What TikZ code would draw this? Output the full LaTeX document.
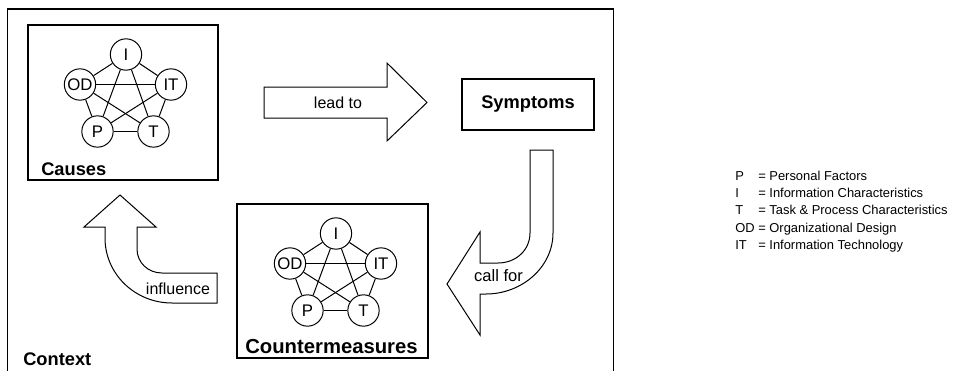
\documentclass[tikz,border=0pt]{standalone}
\usepackage{fontspec}
\setmainfont{Liberation Sans}
\begin{document}
\begin{tikzpicture}[x=0.75pt,y=-0.75pt,
  frame/.style={draw,line width=0.95pt},
  panel/.style={draw,line width=0.95pt,inner sep=0pt},
  boxlabel/.style={font=\bfseries\fontsize{13.7}{16}\selectfont,inner sep=0pt,anchor=base west},
  factor/.style={circle,draw,line width=0.75pt,minimum size=23.5pt,inner sep=0pt,font=\fontsize{12.6}{14}\selectfont},
  link/.style={line width=0.75pt},
  blockarrow/.style={draw,fill=white,line width=0.75pt,line join=miter},
  arrowtext/.style={inner sep=0pt,font=\fontsize{12}{14}\selectfont},
]
\useasboundingbox (0,0) rectangle (957,371);

% outer context frame (open at the lower edge)
\draw[frame] (7.5,371) -- (7.5,9) -- (613.5,9) -- (613.5,371);
\node[boxlabel] (contextlbl) at (23,365) {Context};

% panels
\node[panel,minimum width=142.5pt,minimum height=116.25pt] (causes) at (123,102.5) {};
\node[boxlabel] (causeslbl) at (41,175) {Causes};

\node[panel,minimum width=99pt,minimum height=38.25pt,font=\bfseries\fontsize{13.7}{16}\selectfont] (symptoms) at (528,104.5) {Symptoms};

\node[panel,minimum width=143.25pt,minimum height=115.5pt] (counter) at (332.5,281) {};
\node[boxlabel,anchor=base,font=\bfseries\fontsize{15.2}{17}\selectfont] (counterlbl) at (331.5,353) {Countermeasures};

% factor networks: five factors, every pair linked
\foreach \pre/\cx/\cy in {ca/126/54.5, cm/336/233.5}{
  \node[factor] (\pre-I)  at (\cx,\cy) {I};
  \node[factor] (\pre-OD) at ({\cx-46},{\cy+30}) {OD};
  \node[factor] (\pre-IT) at ({\cx+45},{\cy+30}) {IT};
  \node[factor] (\pre-P)  at ({\cx-28.5},{\cy+77}) {P};
  \node[factor] (\pre-T)  at ({\cx+27.5},{\cy+77}) {T};
  \foreach \a/\b in {I/OD,I/IT,I/P,I/T,OD/IT,OD/P,OD/T,IT/P,IT/T,P/T}
    \draw[link] (\pre-\a) -- (\pre-\b);
}

% "lead to" block arrow
\draw[blockarrow] (264,87) -- (387,87) -- (387,63) -- (427,102.5) -- (387,141)
  -- (387,118) -- (264,118) -- cycle;
\node[arrowtext] (leadto) at (338,103) {lead to};

% "call for" bent arrow
\draw[blockarrow] (530,150) -- (553,150) -- (553,233)
  .. controls (553,267) and (522,294) .. (486,294) -- (480,294) -- (480,335)
  -- (447,284) -- (480,232) -- (480,263) -- (498,263)
  .. controls (516,263) and (530,250) .. (530,233) -- cycle;
\node[arrowtext,font=\fontsize{12.4}{14}\selectfont] (callfor) at (498.5,276) {call for};

% "influence" bent arrow
\draw[blockarrow] (120,195) -- (156,227) -- (137,227) -- (137,249)
  .. controls (137,262.5) and (148,273) .. (162,273) -- (217,273) -- (217,303)
  -- (172,303) .. controls (135,303) and (105,274) .. (105,238) -- (105,227)
  -- (84,227) -- cycle;
\node[arrowtext] (influence) at (178,288.5) {influence};

% legend
\node[anchor=base west,inner sep=0pt,font=\fontsize{9.7}{12.9}\selectfont] (legend) at (735,180.5)
  {\begin{tabular}[t]{@{}l@{\ }l@{}}
   P  & = Personal Factors\\
   I  & = Information Characteristics\\
   T  & = Task \& Process Characteristics\\
   OD & = Organizational Design\\
   IT & = Information Technology
   \end{tabular}};
\end{tikzpicture}
\end{document}
